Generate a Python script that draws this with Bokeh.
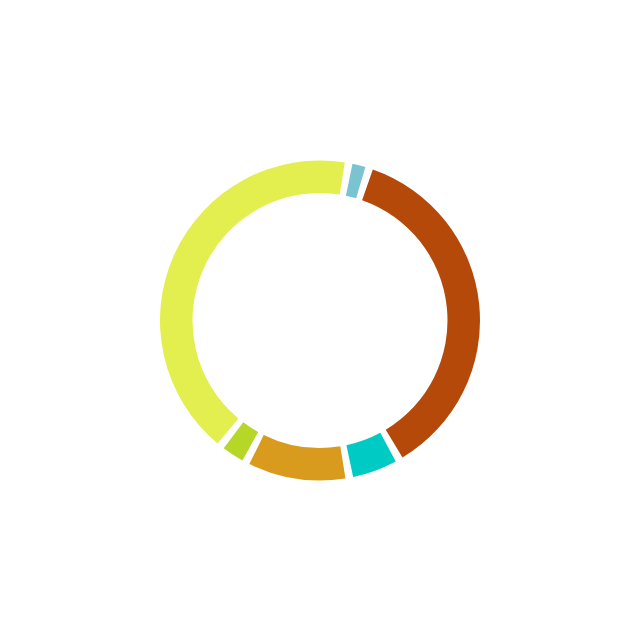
import math
from bokeh.plotting import figure
from bokeh.models import ColumnDataSource
from bokeh.embed import file_html
from bokeh.resources import INLINE

# Data (clockwise order, starting from the large yellow slice)
categories = ["A", "B", "C", "D", "E", "F"]
values = [42.2, 2.1, 36.8, 5.3, 10.6, 3.0]
colors = ["#e3ef4e", "#7ac4d2", "#b5490a", "#00cac4", "#d99b1e", "#b6d628"]

start_offset_deg = 218.4   # clockwise from 12 o'clock
pad_deg = 2.8
outer_r = 160
inner_r = 127.5

total = sum(values)
starts, ends = [], []
acc = start_offset_deg
for v in values:
    span = v / total * 360.0
    th0 = acc + pad_deg / 2
    th1 = acc + span - pad_deg / 2
    # convert clockwise-from-top to bokeh anticlockwise-from-east
    starts.append(math.radians(90 - th1))
    ends.append(math.radians(90 - th0))
    acc += span

src = ColumnDataSource(dict(cat=categories, val=values, color=colors,
                            start=starts, end=ends))

p = figure(width=624, height=624, x_range=(-319.5, 304.5), y_range=(-304, 320),
           output_backend="svg", toolbar_location=None, min_border=0)
p.annular_wedge(x=0, y=0, inner_radius=inner_r, outer_radius=outer_r,
                start_angle="start", end_angle="end", direction="anticlock",
                fill_color="color", line_color=None, source=src)

p.axis.visible = False
p.grid.visible = False
p.outline_line_color = None
p.background_fill_color = "white"
p.border_fill_color = "white"

open("out.html", "w").write(file_html(p, INLINE))
